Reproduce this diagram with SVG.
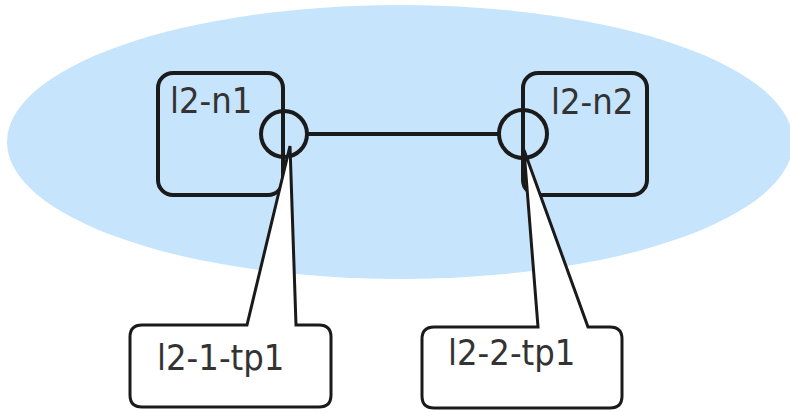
<svg xmlns="http://www.w3.org/2000/svg" width="790" height="412" viewBox="0 0 790 412">
<style>
.box{fill:none;stroke:#1a1a1a;stroke-width:4}
.tp{fill:none;stroke:#1a1a1a;stroke-width:4}
.call{fill:#ffffff;stroke:#1a1a1a;stroke-width:3}
.lbl{font-family:"DejaVu Sans Condensed","DejaVu Sans",sans-serif;font-size:36px;fill:#333333}
</style>
<rect width="790" height="412" fill="#ffffff"/>
<ellipse id="network" cx="400" cy="142" rx="393" ry="137" fill="#c6e4fb"/>
<g id="l2-n1">
<rect class="box" x="158" y="73" width="125" height="122" rx="15"/>
<text class="lbl" x="170" y="113">l2-n1</text>
</g>
<g id="l2-n2">
<rect class="box" x="523" y="73" width="124" height="122" rx="15"/>
<text class="lbl" x="551" y="114">l2-n2</text>
</g>
<g id="connectors">
<line x1="307" y1="134" x2="499" y2="134" stroke="#1a1a1a" stroke-width="4"/>
</g>
<g id="tp-1">
<circle class="tp" cx="284" cy="134" r="23"/>
</g>
<g id="tp-2">
<circle class="tp" cx="523" cy="134" r="24"/>
</g>
<g id="l2-1-tp1">
<path class="call" d="M290,146 L296,325 L319,325 Q331,325 331,337 L331,395 Q331,407 319,407 L142,407 Q130,407 130,395 L130,337 Q130,325 142,325 L247,325 Z"/>
<text class="lbl" x="157" y="370">l2-1-tp1</text>
</g>
<g id="l2-2-tp1">
<path class="call" d="M524,150 L588,327 L610,327 Q622,327 622,339 L622,396 Q622,408 610,408 L434,408 Q422,408 422,396 L422,339 Q422,327 434,327 L538,327 Z"/>
<text class="lbl" x="448" y="365">l2-2-tp1</text>
</g>
</svg>
